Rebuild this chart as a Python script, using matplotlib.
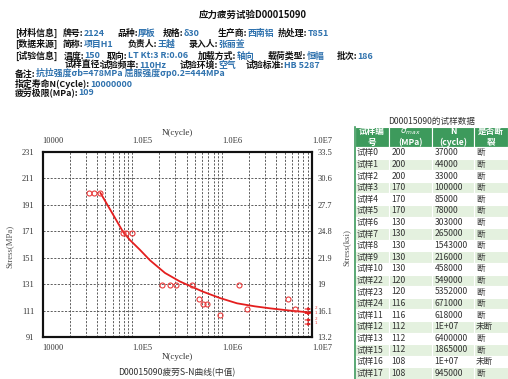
import matplotlib
matplotlib.use('Agg')
import matplotlib.pyplot as plt
import numpy as np

# ---------------- data ----------------
specimens = ["试样0", "试样1", "试样2", "试样3", "试样4", "试样5", "试样6", "试样7", "试样8", "试样9",
             "试样10", "试样22", "试样23", "试样24", "试样11", "试样12", "试样13", "试样15", "试样16", "试样17"]
stress = [200, 200, 200, 170, 170, 170, 130, 130, 130, 130,
          130, 120, 120, 116, 116, 112, 112, 112, 108, 108]
cycles_txt = ["37000", "44000", "33000", "100000", "85000", "78000", "303000", "265000", "1543000", "216000",
              "458000", "549000", "5352000", "671000", "618000", "1E+07", "6400000", "1865000", "1E+07", "945000"]
cycles = [37000, 44000, 33000, 100000, 85000, 78000, 303000, 265000, 1543000, 216000,
          458000, 549000, 5352000, 671000, 618000, 1e7, 6400000, 1865000, 1e7, 945000]
broken = ["断", "断", "断", "断", "断", "断", "断", "断", "断", "断",
          "断", "断", "断", "断", "断", "未断", "断", "断", "未断", "断"]

# median S-N curve
curve_N = [44000, 59200, 78300, 93700, 121000, 157000, 230000, 338000, 610000,
           942000, 1460000, 2310000, 3400000, 5670000, 10000000]
curve_S = [200, 185, 170.7, 164.4, 157, 149, 139.5, 133, 125.3,
           120.5, 116.5, 114.2, 112.7, 111, 109.4]

# run-out arrow marks at right edge
runout_S = [112.2, 108.9, 103.9, 100.8]
runout_lbl = ["2", "1", "2", "1"]

y_ticks = [91, 111, 131, 151, 171, 191, 211, 231]
ksi_labels = ["13.2", "16.1", "19", "21.9", "24.8", "27.7", "30.6", "33.5"]
x_ticks = [1e4, 1e5, 1e6, 1e7]
x_labels = ["10000", "1.0E5", "1.0E6", "1.0E7"]

# ---------------- figure ----------------
W, H = 508, 379
fig = plt.figure(figsize=(W / 100, H / 100), dpi=100)
fig.patch.set_facecolor('white')


def fx(x):
    return x / W


def fy(y):
    return 1 - y / H


CJK = ['Noto Sans CJK SC', 'DejaVu Sans']
K = '#111111'
B = '#2f72ae'
FS = 6.4

fig.text(fx(253), fy(15), "应力疲劳试验D00015090", family=CJK, fontsize=6.8,
         fontweight='bold', ha='center', va='center', color=K)


def draw_group(x, y, segs):
    prev = None
    for txt, col in segs:
        if prev is None:
            prev = fig.text(fx(x), fy(y), txt, family=CJK, fontsize=FS, fontweight='bold',
                            color=col, ha='left', va='center')
        else:
            prev = fig.axes[0].annotate(txt, xy=(1, 0), xycoords=prev, family=CJK, fontsize=FS,
                                        fontweight='bold', color=col, ha='left', va='bottom',
                                        annotation_clip=False)


# ---------------- chart ----------------
L, R, T, Bt = 42.7, 312, 152, 337
ax = fig.add_axes([fx(L), fy(Bt), fx(R) - fx(L), (Bt - T) / H])
ax.set_xscale('log')
ax.set_xlim(1e4, 1e7)
ax.set_ylim(91, 231)

grid_kw = dict(color='#444444', lw=0.6, dashes=(2.5, 1.8))
for dec in [1e4, 1e5, 1e6]:
    for m in range(1, 10):
        v = dec * m
        if 1e4 < v < 1e7:
            ax.axvline(v, **grid_kw, zorder=1)
for yv in y_ticks[1:-1]:
    ax.axhline(yv, **grid_kw, zorder=1)

ax.plot(curve_N, curve_S, color='#e41e1e', lw=1.3, zorder=3)
bN = [n for n, b in zip(cycles, broken) if b == "断"]
bS = [s for s, b in zip(stress, broken) if b == "断"]
ax.plot(bN, bS, 'o', mfc='none', mec='#e83a3a', ms=3.6, mew=0.8, zorder=4)
for s, lb in zip(runout_S, runout_lbl):
    ax.annotate("", xy=(1.05e7, s), xytext=(0.78e7, s),
                arrowprops=dict(arrowstyle='-|>', color='#e41e1e', lw=0.8,
                                mutation_scale=4), annotation_clip=False, zorder=5)
    ax.text(1.08e7, s + 0.6, lb, fontsize=3.0, color='#e84040', va='center', ha='left',
            clip_on=False)

ax.set_yticks(y_ticks)
ax.set_yticklabels([str(v) for v in y_ticks], family='Liberation Serif', fontsize=6, color='#333333')
ax.set_xticks(x_ticks)
ax.set_xticks([], minor=True)
ax.set_xticklabels(x_labels, family='Liberation Serif', fontsize=6, color='#333333')
ax.tick_params(axis='x', which='both', length=0, pad=5, top=True, labeltop=True)
ax.tick_params(axis='y', which='both', length=0, pad=6)
for lab in ax.get_xticklabels():
    lab.set_ha('left')
ax2 = ax.twinx()
ax2.set_ylim(91, 231)
ax2.set_yticks(y_ticks)
ax2.set_yticklabels(ksi_labels, family='Liberation Serif', fontsize=6, color='#333333')
ax2.tick_params(axis='y', length=0, pad=4)
for a in (ax, ax2):
    for sp in a.spines.values():
        sp.set_linewidth(1.5)
        sp.set_color('#111111')

fig.text(fx(177), fy(133), "N(cycle)", family='Liberation Serif', fontsize=6.5,
         ha='center', va='center', color='#333333')
fig.text(fx(177), fy(357), "N(cycle)", family='Liberation Serif', fontsize=6.5,
         ha='center', va='center', color='#333333')
fig.text(fx(177), fy(373), "D00015090疲劳S-N曲线(中值)", family=CJK, fontsize=6.3,
         ha='center', va='center', color='#333333')
fig.text(fx(10), fy(246), "Stress(MPa)", family='Liberation Serif', fontsize=6.3,
         ha='center', va='center', rotation=90, color='#555555')
fig.text(fx(347), fy(248), "Stress(ksi)", family='Liberation Serif', fontsize=6.3,
         ha='center', va='center', rotation=90, color='#555555')

# ---------------- header text ----------------
draw_group(15, 33, [("[材料信息]", K)])
draw_group(63, 33, [("牌号:", K), ("2124", B)])
draw_group(117, 33, [("品种:", K), ("厚板", B)])
draw_group(163, 33, [("规格:", K), ("δ30", B)])
draw_group(218, 33, [("生产商:", K), ("西南铝", B)])
draw_group(278, 33, [("热处理:", K), ("T851", B)])

draw_group(15, 44, [("[数据来源]", K)])
draw_group(63, 44, [("简称:", K), ("项目H1", B)])
draw_group(128, 44, [("负责人:", K), ("王越", B)])
draw_group(189, 44, [("录入人:", K), ("张丽萱", B)])

draw_group(15, 56, [("[试验信息]", K)])
draw_group(64, 56, [("温度:", K), ("150", B)])
draw_group(107, 56, [("取向:", K), ("LT Kt:3 R:0.06", B)])
draw_group(198, 56, [("加载方式:", K), ("轴向", B)])
draw_group(268, 56, [("载荷类型:", K), ("恒幅", B)])
draw_group(337, 56, [("批次:", K), ("186", B)])

draw_group(65, 65, [("试样直径:", K)])
draw_group(101, 65, [("试验频率:", K), ("110Hz", B)])
draw_group(180, 65, [("试验环境:", K), ("空气", B)])
draw_group(246, 65, [("试验标准:", K), ("HB 5287", B)])

draw_group(15, 74, [("备注:", K), ("抗拉强度σb=478MPa 屈服强度σp0.2=444MPa", B)])
draw_group(15, 83.5, [("指定寿命N(Cycle):", K), ("10000000", B)])
draw_group(15, 92.5, [("疲劳极限(MPa):", K), ("109", B)])

# ---------------- table ----------------
fig.text(fx(432), fy(121), "D00015090的试样数据", family=CJK, fontsize=6.2,
         ha='center', va='center', color='#333333')
tax = fig.add_axes([fx(355), 0, fx(508) - fx(355), 1 - 127 / H])
tax.axis('off')
header = ["试样编\n号", "$\\sigma_{max}$\n(MPa)", "N\n(cycle)", "是否断\n裂"]
rows = [[a, str(b), c, d] for a, b, c, d in zip(specimens, stress, cycles_txt, broken)]
cw = np.array([34, 43, 42, 34], dtype=float)
tbl = tax.table(cellText=rows, colLabels=header, colWidths=list(cw / cw.sum()),
                bbox=[0, 0, 1, 1], cellLoc='left')
tbl.auto_set_font_size(False)
tbl.set_fontsize(6.2)
for (r, c), cell in tbl.get_celld().items():
    cell.set_edgecolor('white')
    cell.set_linewidth(0.8)
    cell.PAD = 0.06
    if r == 0:
        cell.set_height(20 / 11.6)
        cell.set_facecolor('#3d9a5c')
        t = cell.get_text()
        t.set_color('white')
        t.set_fontweight('bold')
        t.set_ha('center')
        t.set_multialignment('center')
        t.set_fontsize(6.2)
        t.set_family(CJK)
        cell._loc = 'center'
    else:
        cell.set_height(1.0)
        cell.set_facecolor('white' if r % 2 == 1 else '#e4f1df')
        t = cell.get_text()
        t.set_color('#333333')
        t.set_family(CJK)
tax.plot([0, 0], [0, 1], color='#3d9a5c', lw=1.2, transform=tax.transAxes, clip_on=False)

fig.savefig('out.png', dpi=100)
